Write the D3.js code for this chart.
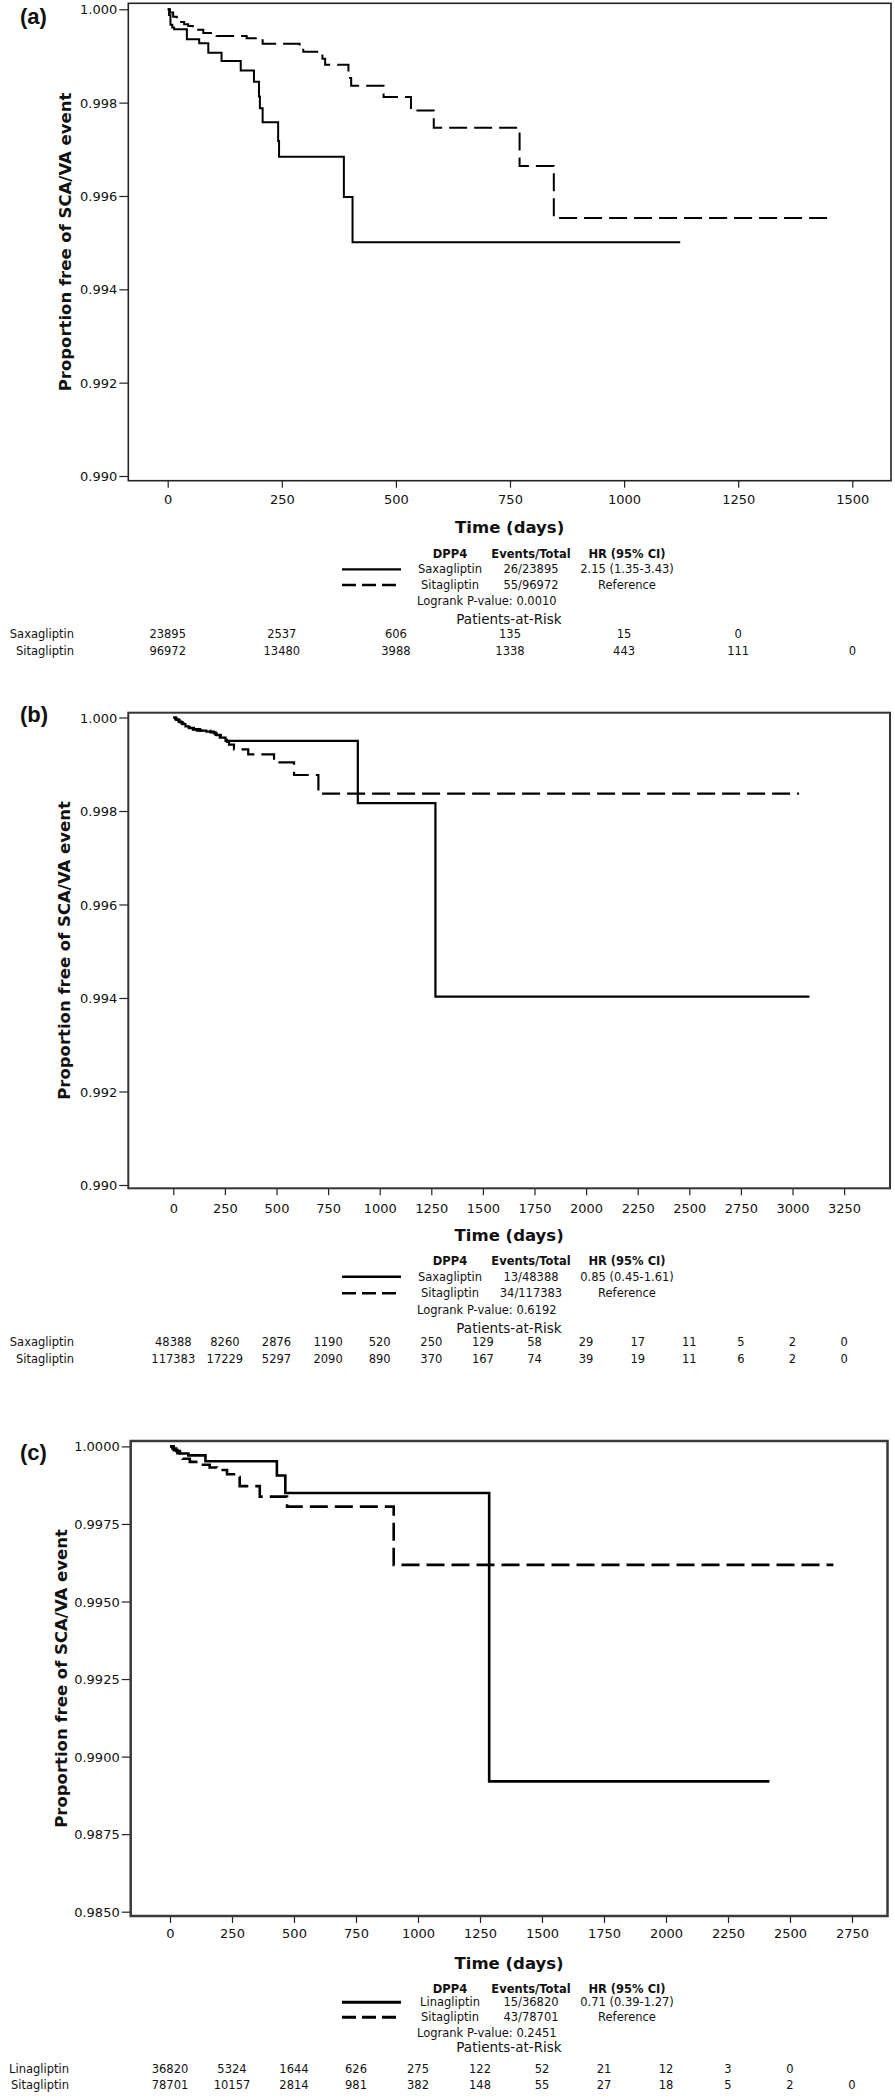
<!DOCTYPE html>
<html>
<head>
<meta charset="utf-8">
<script src="https://cdn.jsdelivr.net/npm/d3@7"></script>
<style>
  html, body { margin: 0; padding: 0; background: #fff; }
  svg { display: block; }
  text { font-family: "DejaVu Sans", Verdana, sans-serif; fill: #111; }
</style>
</head>
<body>
<svg id="chart" width="895" height="2098"></svg>
<script>
// ---------------- DATA ----------------
// Panel (a)
const timeTicksA = [0, 250, 500, 750, 1000, 1250, 1500];
const survTicksA = [0.990, 0.992, 0.994, 0.996, 0.998, 1.000];
const saxaCurveA = [[0,1.0],[3,0.99988],[6,0.99967],[10,0.99961],[14,0.99957],[42,0.99936],[69,0.99927],[89,0.99907],[118,0.99889],[160,0.99869],[189,0.99845],[200,0.99813],[202,0.99788],[208,0.99758],[242,0.99718],[244,0.99684],[386,0.99598],[405,0.99501],[1123,0.99501]];
const sitaCurveA = [[0,1.0],[5,0.99993],[12,0.99984],[20,0.99978],[27,0.99973],[36,0.99968],[45,0.99964],[55,0.9996],[63,0.99956],[78,0.99949],[107,0.99943],[173,0.99938],[208,0.99926],[289,0.99916],[297,0.99909],[339,0.99894],[345,0.99881],[396,0.99853],[402,0.99836],[473,0.99812],[533,0.99783],[583,0.99746],[771,0.99664],[846,0.99553],[1458,0.99553]];
const legendA = [["Saxagliptin","26/23895","2.15 (1.35-3.43)"],["Sitagliptin","55/96972","Reference"]];
const pvalueA = "Logrank P-value: 0.0010";
const riskNamesA = ["Saxagliptin","Sitagliptin"];
const riskSaxaA = [23895, 2537, 606, 135, 15, 0];
const riskSitaA = [96972, 13480, 3988, 1338, 443, 111, 0];

// Panel (b)
const timeTicksB = [0,250,500,750,1000,1250,1500,1750,2000,2250,2500,2750,3000,3250];
const survTicksB = [0.990, 0.992, 0.994, 0.996, 0.998, 1.000];
const saxaCurveB = [[0,1.0],[15,0.99995],[30,0.9999],[45,0.99986],[59,0.99981],[75,0.99977],[95,0.99974],[114,0.99972],[160,0.9997],[197,0.99966],[210,0.99962],[225,0.99957],[253,0.9995],[894,0.99817],[1270,0.99403],[3082,0.99403]];
const sitaCurveB = [[0,1.0],[10,0.99996],[25,0.99991],[40,0.99987],[60,0.99982],[80,0.99978],[100,0.99975],[130,0.99972],[180,0.99968],[205,0.99963],[230,0.99956],[260,0.99948],[270,0.99942],[294,0.99932],[363,0.99921],[488,0.99904],[585,0.99877],[703,0.99837],[3032,0.99837]];
const legendB = [["Saxagliptin","13/48388","0.85 (0.45-1.61)"],["Sitagliptin","34/117383","Reference"]];
const pvalueB = "Logrank P-value: 0.6192";
const riskNamesB = ["Saxagliptin","Sitagliptin"];
const riskSaxaB = [48388, 8260, 2876, 1190, 520, 250, 129, 58, 29, 17, 11, 5, 2, 0];
const riskSitaB = [117383, 17229, 5297, 2090, 890, 370, 167, 74, 39, 19, 11, 6, 2, 0];

// Panel (c)
const timeTicksC = [0,250,500,750,1000,1250,1500,1750,2000,2250,2500,2750];
const survTicksC = [0.9850, 0.9875, 0.9900, 0.9925, 0.9950, 0.9975, 1.0000];
const linaCurveC = [[0,1.0],[10,0.99993],[25,0.99985],[40,0.99977],[74,0.99971],[143,0.99952],[431,0.99906],[465,0.9985],[1287,0.9892],[2417,0.9892]];
const sitaCurveC = [[0,1.0],[15,0.99988],[30,0.99978],[51,0.9996],[80,0.9995],[120,0.99941],[160,0.99932],[189,0.99924],[230,0.9991],[258,0.99901],[281,0.99872],[362,0.99838],[472,0.99806],[902,0.99618],[2675,0.99618]];
const legendC = [["Linagliptin","15/36820","0.71 (0.39-1.27)"],["Sitagliptin","43/78701","Reference"]];
const pvalueC = "Logrank P-value: 0.2451";
const riskNamesC = ["Linagliptin","Sitagliptin"];
const riskLinaC = [36820, 5324, 1644, 626, 275, 122, 52, 21, 12, 3, 0];
const riskSitaC = [78701, 10157, 2814, 981, 382, 148, 55, 27, 18, 5, 2, 0];

// ---------------- LAYOUT ----------------
const panels = [
  { tag: "(a)", tagY: 16,
    frame: {l:128.3, r:891, t:3.3, b:480.7}, xr: [167.7, 852.3], yr: [476, 9.3],
    xTicks: timeTicksA, yTicks: survTicksA, yFmt: ".3f",
    curves: [saxaCurveA, sitaCurveA], legend: legendA, pvalue: pvalueA,
    riskNames: riskNamesA, risk: [riskSaxaA, riskSitaA],
    tickY: 500, timeY: 527, legY: [553.5, 569.3, 585, 600.7], parY: 619, rowY: [634, 650.7], rowRight: 74,
    frameW: 1.6, frameC: "#222", curveW: 2, ytitleX: 65 },
  { tag: "(b)", tagY: 714,
    frame: {l:128.3, r:890, t:712.7, b:1188.3}, xr: [173.3, 844.1], yr: [1185, 717.5],
    xTicks: timeTicksB, yTicks: survTicksB, yFmt: ".3f",
    curves: [saxaCurveB, sitaCurveB], legend: legendB, pvalue: pvalueB,
    riskNames: riskNamesB, risk: [riskSaxaB, riskSitaB],
    tickY: 1208.3, timeY: 1235.7, legY: [1260.7, 1276.7, 1293.3, 1310], parY: 1327.7, rowY: [1342.3, 1359], rowRight: 74,
    frameW: 2, frameC: "#333", curveW: 2.2, ytitleX: 64 },
  { tag: "(c)", tagY: 1452,
    frame: {l:130.7, r:887.5, t:1441, b:1916}, xr: [170, 852], yr: [1911.7, 1446.4],
    xTicks: timeTicksC, yTicks: survTicksC, yFmt: ".4f",
    curves: [linaCurveC, sitaCurveC], legend: legendC, pvalue: pvalueC,
    riskNames: riskNamesC, risk: [riskLinaC, riskSitaC],
    tickY: 1933, timeY: 1963.3, legY: [1989.3, 2002.3, 2017.3, 2032.7], parY: 2046.7, rowY: [2069, 2085], rowRight: 69,
    frameW: 2.5, frameC: "#3a3a3a", curveW: 2.6, ytitleX: 61 }
];

const svg = d3.select("#chart");

panels.forEach(p => {
  const g = svg.append("g");
  const f = p.frame;
  const x = d3.scaleLinear().domain([p.xTicks[0], p.xTicks[p.xTicks.length-1]]).range(p.xr);
  const y = d3.scaleLinear().domain([p.yTicks[0], p.yTicks[p.yTicks.length-1]]).range(p.yr);

  // panel tag
  g.append("text").attr("x", 20).attr("y", p.tagY)
    .attr("dominant-baseline", "central")
    .style("font-family", "'Liberation Sans', Arial, sans-serif")
    .style("font-size", "22px").style("font-weight", "bold")
    .text(p.tag);

  // Y axis
  const ya = g.append("g").attr("transform", `translate(${f.l},0)`)
    .call(d3.axisLeft(y).tickValues(p.yTicks).tickFormat(d3.format(p.yFmt)).tickSize(9).tickPadding(2));
  ya.select(".domain").remove();
  ya.selectAll(".tick line").attr("stroke", "#222").attr("stroke-width", 1.2);
  ya.selectAll(".tick text").attr("dy", null).attr("dominant-baseline", "central")
    .style("font-size", "13px").style("font-family", "'DejaVu Sans', sans-serif").attr("fill", "#111");

  // X axis
  const xa = g.append("g").attr("transform", `translate(0,${f.b})`)
    .call(d3.axisBottom(x).tickValues(p.xTicks).tickFormat(d3.format("d")).tickSize(7));
  xa.select(".domain").remove();
  xa.selectAll(".tick line").attr("stroke", "#222").attr("stroke-width", 1.2);
  xa.selectAll(".tick text").attr("dy", null).attr("y", p.tickY - f.b).attr("dominant-baseline", "central")
    .style("font-size", "13px").style("font-family", "'DejaVu Sans', sans-serif").attr("fill", "#111");

  // frame
  g.append("rect").attr("x", f.l).attr("y", f.t).attr("width", f.r - f.l).attr("height", f.b - f.t)
    .attr("fill", "none").attr("stroke", p.frameC).attr("stroke-width", p.frameW);

  // curves
  const line = d3.line().x(d => x(d[0])).y(d => y(d[1])).curve(d3.curveStepAfter);
  p.curves.forEach((c, i) => {
    g.append("path").datum(c).attr("d", line)
      .attr("fill", "none").attr("stroke", "#000").attr("stroke-width", p.curveW)
      .attr("stroke-dasharray", i === 1 ? "18,7" : null)
      .attr("stroke-linejoin", "miter");
  });

  // axis titles
  g.append("text").attr("x", (f.l + f.r) / 2).attr("y", p.timeY)
    .attr("text-anchor", "middle").attr("dominant-baseline", "central")
    .style("font-size", "16.5px").style("font-weight", "bold").text("Time (days)");
  g.append("text").attr("transform", `translate(${p.ytitleX},${(f.t + f.b) / 2}) rotate(-90)`)
    .attr("text-anchor", "middle").attr("dominant-baseline", "central")
    .style("font-size", "16.5px").style("font-weight", "bold").text("Proportion free of SCA/VA event");

  // legend
  const colX = [450, 531, 627];
  const hdr = ["DPP4", "Events/Total", "HR (95% CI)"];
  hdr.forEach((h, i) => {
    g.append("text").attr("x", colX[i]).attr("y", p.legY[0]).attr("text-anchor", "middle")
      .attr("dominant-baseline", "central").style("font-size", "11.5px").style("font-weight", "bold").text(h);
  });
  p.legend.forEach((row, r) => {
    const ly = p.legY[r + 1];
    g.append("line").attr("x1", 342).attr("x2", 401).attr("y1", ly).attr("y2", ly)
      .attr("stroke", "#000").attr("stroke-width", p.curveW + 0.3)
      .attr("stroke-dasharray", r === 1 ? "14,6" : null);
    row.forEach((t, i) => {
      g.append("text").attr("x", colX[i]).attr("y", ly).attr("text-anchor", "middle")
        .attr("dominant-baseline", "central").style("font-size", "11.5px").text(t);
    });
  });
  g.append("text").attr("x", 417).attr("y", p.legY[3]).attr("dominant-baseline", "central")
    .style("font-size", "11.5px").text(p.pvalue);
  g.append("text").attr("x", 509).attr("y", p.parY).attr("text-anchor", "middle")
    .attr("dominant-baseline", "central").style("font-size", "13.5px").text("Patients-at-Risk");

  // patients at risk rows
  p.risk.forEach((vals, r) => {
    const ry = p.rowY[r];
    g.append("text").attr("x", p.rowRight).attr("y", ry).attr("text-anchor", "end")
      .attr("dominant-baseline", "central").style("font-size", "11.5px").text(p.riskNames[r]);
    g.selectAll(null).data(vals).enter().append("text")
      .attr("x", (d, i) => x(p.xTicks[i])).attr("y", ry)
      .attr("text-anchor", "middle").attr("dominant-baseline", "central")
      .style("font-size", "11.5px").text(d => d);
  });
});
</script>
</body>
</html>
